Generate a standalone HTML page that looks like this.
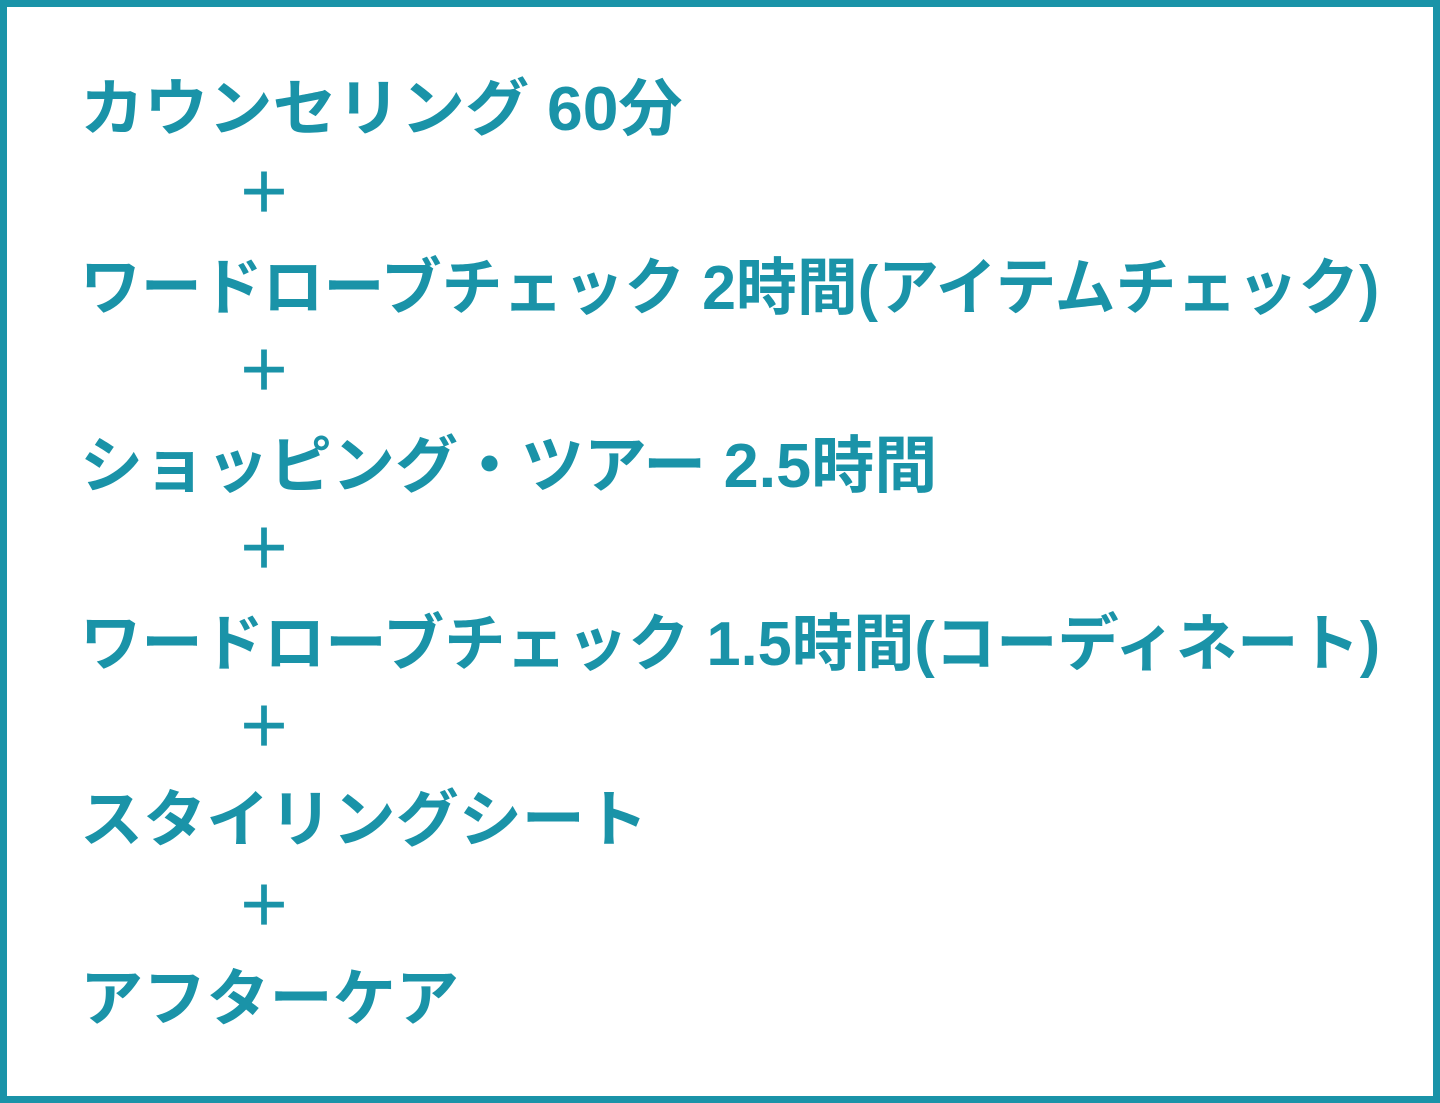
<!DOCTYPE html>
<html><head><meta charset="utf-8"><style>
html,body{margin:0;padding:0;background:#fff}
.box{position:absolute;left:0;top:0;width:1440px;height:1103px;box-sizing:border-box;border:7px solid #1a93a8}
.l{position:absolute;left:80px;font-family:"Liberation Sans","Noto Sans CJK JP",sans-serif;font-weight:bold;font-size:62px;color:#1a93a8;line-height:1;white-space:nowrap;transform-origin:0 0}
.p{position:absolute;left:236px;font-family:"Liberation Sans","Noto Sans CJK JP",sans-serif;font-weight:bold;font-size:56px;color:#1a93a8;line-height:1}
</style></head><body>
<div class="box"></div>
<div class="l" style="top:79px;transform:scaleX(1.035)">カウンセリング 60分</div>
<div class="p" style="top:166px">＋</div>
<div class="l" style="top:258px;transform:scaleX(0.982)">ワードローブチェック 2時間(アイテムチェック)</div>
<div class="p" style="top:344px">＋</div>
<div class="l" style="top:436px;transform:scaleX(1.016)">ショッピング・ツアー 2.5時間</div>
<div class="p" style="top:522px">＋</div>
<div class="l" style="top:614px;transform:scaleX(0.989)">ワードローブチェック 1.5時間(コーディネート)</div>
<div class="p" style="top:700px">＋</div>
<div class="l" style="top:790px;transform:scaleX(1.018)">スタイリングシート</div>
<div class="p" style="top:879px">＋</div>
<div class="l" style="top:969px;transform:scaleX(1.019)">アフターケア</div>
</body></html>
